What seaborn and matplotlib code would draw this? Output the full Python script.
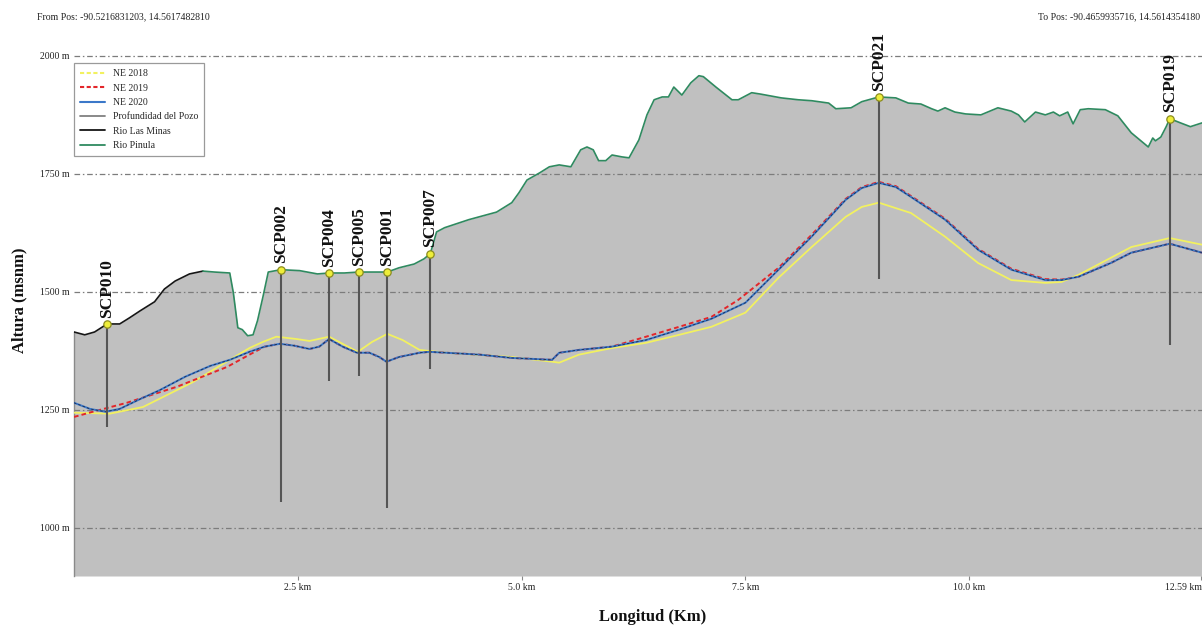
import matplotlib
matplotlib.use("Agg")
import matplotlib.pyplot as plt
import matplotlib.transforms as mtransforms
from matplotlib.lines import Line2D
import pandas as pd
import seaborn as sns

# Ground profile along the Rio Las Minas reach (distance km, elevation m a.s.l.)
las_minas_km = [0.00, 0.12, 0.23, 0.37, 0.51, 0.62, 0.74, 0.90, 1.01, 1.13, 1.29, 1.44]
las_minas_elev = [1415, 1409, 1415, 1432, 1432, 1445, 1460, 1479, 1506, 1523, 1538, 1544]

# Ground profile along the Rio Pinula reach
pinula_km = [1.44, 1.57, 1.74, 1.78, 1.83, 1.88, 1.94, 2.00, 2.05, 2.11, 2.17, 2.31,
             2.52, 2.72, 2.85, 3.02, 3.18, 3.50, 3.63, 3.80, 3.91, 3.98, 4.05, 4.14,
             4.41, 4.72, 4.89, 4.97, 5.06, 5.20, 5.31, 5.42, 5.55, 5.66, 5.73, 5.80,
             5.86, 5.94, 6.01, 6.12, 6.20, 6.31, 6.40, 6.48, 6.57, 6.64, 6.70, 6.79,
             6.89, 6.98, 7.03, 7.17, 7.35, 7.42, 7.57, 7.67, 7.90, 8.09, 8.24, 8.43,
             8.51, 8.68, 8.80, 8.99, 9.18, 9.32, 9.46, 9.58, 9.65, 9.73, 9.84, 9.96,
             10.13, 10.32, 10.47, 10.55, 10.62, 10.74, 10.85, 10.94, 11.01, 11.10,
             11.16, 11.24, 11.33, 11.52, 11.66, 11.81, 12.00, 12.05, 12.08, 12.14,
             12.20, 12.24, 12.36, 12.47, 12.60]
pinula_elev = [1544, 1542, 1540, 1498, 1424, 1420, 1407, 1409, 1439, 1489, 1542, 1547,
               1545, 1538, 1540, 1540, 1542, 1542, 1551, 1559, 1570, 1581, 1627, 1636,
               1653, 1669, 1689, 1710, 1737, 1752, 1765, 1769, 1765, 1801, 1807, 1801,
               1778, 1778, 1790, 1786, 1784, 1822, 1875, 1907, 1913, 1913, 1934, 1917,
               1943, 1958, 1956, 1934, 1907, 1907, 1922, 1919, 1911, 1907, 1905, 1900,
               1888, 1890, 1903, 1913, 1911, 1900, 1898, 1888, 1883, 1890, 1881, 1877,
               1875, 1890, 1883, 1875, 1860, 1881, 1875, 1881, 1873, 1881,
               1856, 1886, 1888, 1886, 1873, 1837, 1807, 1826, 1820, 1828,
               1850, 1867, 1858, 1850, 1858]

# Water table, 2018
ne2018_km = [0.00, 0.40, 0.77, 1.33, 1.74, 1.96, 2.11, 2.26, 2.49, 2.63, 2.85, 3.00,
             3.17, 3.33, 3.50, 3.67, 3.86, 4.16, 4.89, 5.34, 5.42, 5.64, 6.01, 6.39,
             6.76, 7.12, 7.50, 7.87, 8.24, 8.62, 8.80, 8.99, 9.35, 9.73, 10.10, 10.47,
             10.85, 11.03, 11.22, 11.58, 11.81, 12.24, 12.60]
ne2018_elev = [1244, 1242, 1256, 1309, 1356, 1381, 1394, 1405, 1400, 1396, 1405, 1390,
               1373, 1394, 1411, 1398, 1377, 1371, 1362, 1352, 1350, 1367, 1381, 1392,
               1409, 1426, 1456, 1530, 1595, 1659, 1680, 1689, 1667, 1617, 1561, 1525,
               1519, 1521, 1536, 1572, 1595, 1614, 1600]

# Water table, 2019
ne2019_km = [0.00, 0.21, 0.59, 1.15, 1.71, 1.96, 2.13, 2.30, 2.46, 2.63, 2.74, 2.85,
             3.00, 3.16, 3.30, 3.41, 3.49, 3.63, 3.86, 3.97, 4.53, 4.89, 5.34, 5.42,
             5.64, 6.01, 6.39, 6.76, 7.12, 7.42, 7.87, 8.24, 8.62, 8.80, 8.99, 9.18,
             9.35, 9.73, 10.10, 10.47, 10.85, 11.03, 11.22, 11.58, 11.81, 12.24, 12.60]
ne2019_elev = [1235, 1246, 1265, 1299, 1341, 1367, 1384, 1390, 1386, 1379, 1384, 1400,
               1384, 1371, 1371, 1362, 1352, 1362, 1371, 1373, 1367, 1360, 1356, 1371,
               1377, 1384, 1405, 1426, 1447, 1483, 1551, 1621, 1697, 1722, 1733, 1724,
               1703, 1655, 1591, 1549, 1527, 1526, 1532, 1561, 1583, 1602, 1583]

# Water table, 2020
ne2020_km = [0.00, 0.18, 0.35, 0.51, 0.74, 0.96, 1.24, 1.52, 1.74, 1.96, 2.13, 2.30,
             2.46, 2.63, 2.74, 2.85, 3.00, 3.16, 3.30, 3.41, 3.49, 3.63, 3.86, 3.97,
             4.53, 4.89, 5.34, 5.42, 5.64, 6.01, 6.39, 6.76, 7.12, 7.50, 7.87, 8.24,
             8.62, 8.80, 8.99, 9.18, 9.35, 9.73, 10.10, 10.47, 10.85, 11.03, 11.22,
             11.58, 11.81, 12.24, 12.60]
ne2020_elev = [1265, 1252, 1246, 1252, 1273, 1292, 1320, 1343, 1356, 1373, 1384, 1390,
               1386, 1379, 1384, 1400, 1384, 1371, 1371, 1362, 1352, 1362, 1371, 1373,
               1367, 1360, 1356, 1371, 1377, 1384, 1398, 1420, 1443, 1477, 1547, 1617,
               1695, 1720, 1731, 1722, 1701, 1653, 1589, 1547, 1525, 1525, 1532,
               1561, 1583, 1602, 1583]

# Wells: position, collar elevation and bottom elevation
wells = ["SCP010", "SCP002", "SCP004", "SCP005", "SCP001", "SCP007", "SCP021", "SCP019"]
well_km = [0.37, 2.31, 2.85, 3.18, 3.50, 3.98, 8.99, 12.24]
well_top = [1432, 1547, 1540, 1542, 1542, 1581, 1913, 1867]
well_bottom = [1214, 1055, 1311, 1322, 1042, 1337, 1528, 1388]

x_ticks = [2.5, 5.0, 7.5, 10.0, 12.59]
x_tick_labels = ["2.5 km", "5.0 km", "7.5 km", "10.0 km", "12.59 km"]
y_ticks = [1000, 1250, 1500, 1750, 2000]
y_tick_labels = ["1000 m", "1250 m", "1500 m", "1750 m", "2000 m"]

from_pos = "From Pos: -90.5216831203, 14.5617482810"
to_pos = "To Pos: -90.4659935716, 14.5614354180"

C_2018 = "#f2f160"
C_2019 = "#e3262a"
C_2020 = "#3b78c9"
C_WELL = "#555555"
C_MINAS = "#161616"
C_PINULA = "#2f8a60"
C_GROUND = "#c0c0c0"

sns.set_theme(style="white")
plt.rcParams["font.family"] = ["Liberation Serif", "DejaVu Serif"]

fig = plt.figure(figsize=(12.02, 6.26), dpi=100)
ax = fig.add_axes([74 / 1202, 50 / 626, 1128 / 1202, 539 / 626])
ymin, ymax = 898, 2040
ax.set_xlim(0, 12.6)
ax.set_ylim(ymin, ymax)

# Ground fill under the full profile
ground = pd.DataFrame({"km": las_minas_km + pinula_km[1:],
                       "elev": las_minas_elev + pinula_elev[1:]})
ax.fill_between(ground["km"], ground["elev"], ymin, color=C_GROUND, lw=0, zorder=1)

minas = pd.DataFrame({"km": las_minas_km, "elev": las_minas_elev})
pinula = pd.DataFrame({"km": pinula_km, "elev": pinula_elev})
sns.lineplot(data=minas, x="km", y="elev", ax=ax, color=C_MINAS, lw=1.2,
             estimator=None, sort=False, legend=False, zorder=3)
sns.lineplot(data=pinula, x="km", y="elev", ax=ax, color=C_PINULA, lw=1.2,
             estimator=None, sort=False, legend=False, zorder=3)

# Water tables
sns.lineplot(x=ne2018_km, y=ne2018_elev, ax=ax, color=C_2018, lw=1.3,
             estimator=None, sort=False, legend=False, zorder=4)
sns.lineplot(x=ne2019_km, y=ne2019_elev, ax=ax, color=C_2019, lw=1.4, linestyle=(0, (2.4, 1.6)),
             estimator=None, sort=False, legend=False, zorder=5)
sns.lineplot(x=ne2020_km, y=ne2020_elev, ax=ax, color=C_2020, lw=1.4,
             estimator=None, sort=False, legend=False, zorder=6)
sns.lineplot(x=ne2020_km, y=ne2020_elev, ax=ax, color="#1c2a4c", lw=0.6, linestyle=(0, (3, 2.5)),
             estimator=None, sort=False, legend=False, zorder=6.5)

# Wells
ax.vlines(well_km, well_bottom, well_top, color=C_WELL, lw=1.5, zorder=7)
sns.scatterplot(x=well_km, y=well_top, ax=ax, s=28, color="#eeee3a", edgecolor="#8c8c1e",
                linewidth=0.9, zorder=8, legend=False)
for name, km, top in zip(wells, well_km, well_top):
    ax.annotate(name, xy=(km, top), xytext=(0, 4.5), textcoords="offset points",
                rotation=90, ha="center", va="bottom", fontsize=12.5,
                fontweight="bold", color="#111111", zorder=9)

# Grid and axes
ax.set_yticks(y_ticks)
ax.set_yticklabels(y_tick_labels)
ax.set_xticks(x_ticks)
ax.set_xticklabels(x_tick_labels)
ax.set_axisbelow(False)
ax.grid(axis="y", color="#7c7c7c", lw=0.9, linestyle=(0, (4.5, 2.2, 1.2, 2.2)))
ax.grid(axis="x", visible=False)
ax.tick_params(axis="y", length=0, pad=3, labelsize=7, labelcolor="#222222")
ax.tick_params(axis="x", length=3, width=0.8, color="#888888", pad=2, labelsize=7,
               labelcolor="#222222", bottom=True)
# keep the end-of-profile label inside the figure
last_label = ax.get_xticklabels()[-1]
last_label.set_horizontalalignment("right")
last_label.set_transform(last_label.get_transform() +
                         mtransforms.ScaledTranslation(1 / 100, 0, fig.dpi_scale_trans))
for side in ["top", "right", "bottom"]:
    ax.spines[side].set_visible(False)
ax.spines["left"].set_color("#8a8a8a")
ax.spines["left"].set_linewidth(1.0)
ax.spines["left"].set_bounds(ymin, las_minas_elev[0])

ax.set_xlabel("Longitud (Km)", fontsize=12, fontweight="bold", color="#111111")
ax.set_ylabel("Altura (msnm)", fontsize=12, fontweight="bold", color="#111111")
ax.xaxis.set_label_coords((653 - 74) / 1128, -0.062)
ax.yaxis.set_label_coords(-0.041, 0.512)

handles = [
    Line2D([], [], color=C_2018, lw=1.5, linestyle=(0, (2, 1.2))),
    Line2D([], [], color=C_2019, lw=1.5, linestyle=(0, (2, 1.2))),
    Line2D([], [], color=C_2020, lw=1.5),
    Line2D([], [], color="#808080", lw=1.3),
    Line2D([], [], color=C_MINAS, lw=1.3),
    Line2D([], [], color=C_PINULA, lw=1.3),
]
labels = ["NE 2018", "NE 2019", "NE 2020", "Profundidad del Pozo", "Rio Las Minas", "Rio Pinula"]
leg = ax.legend(handles, labels, loc="upper left", bbox_to_anchor=(0.0, 0.951),
                borderaxespad=0, fontsize=7, frameon=True, fancybox=False,
                edgecolor="#9a9a9a", framealpha=1, handlelength=2.6, labelspacing=0.55,
                borderpad=0.6, handletextpad=0.8)
leg.get_frame().set_linewidth(0.9)
leg.set_zorder(10)

fig.text(37 / 1202, 1 - 17 / 626, from_pos, fontsize=7, va="center", ha="left", color="#222222")
fig.text(1200 / 1202, 1 - 17 / 626, to_pos, fontsize=7, va="center", ha="right", color="#222222")

fig.savefig("out.png", dpi=100, facecolor="white")
